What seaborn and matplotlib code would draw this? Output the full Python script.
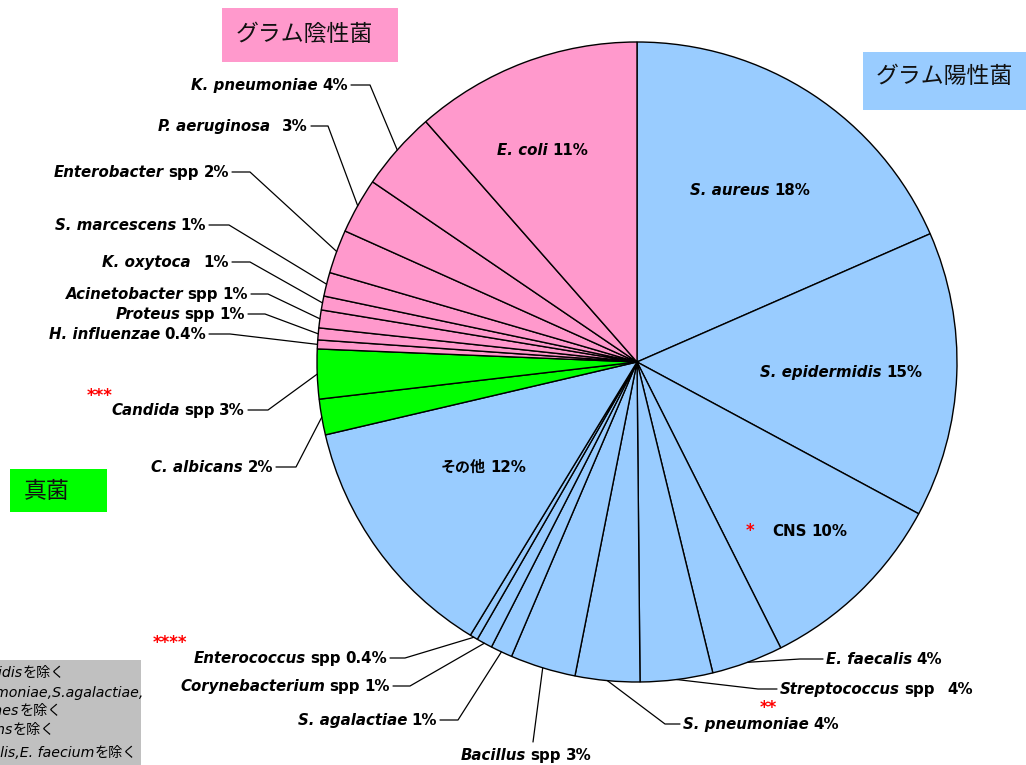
import matplotlib
matplotlib.use("Agg")
import numpy as np
import matplotlib.pyplot as plt
from matplotlib.patches import Rectangle
import seaborn as sns

sns.set_theme(style="white")
plt.rcParams['font.family'] = ['DejaVu Sans', 'Noto Sans CJK JP']

# ---------------- data (clockwise from 12 o'clock) ----------------
names = ["S. aureus", "S. epidermidis", "CNS", "E. faecalis", "Streptococcus",
         "S. pneumoniae", "Bacillus", "S. agalactiae", "Corynebacterium",
         "Enterococcus", "その他", "C. albicans", "Candida", "H. influenzae",
         "Proteus", "Acinetobacter", "K. oxytoca", "S. marcescens",
         "Enterobacter", "P. aeruginosa", "K. pneumoniae", "E. coli"]
spp = [False, False, False, False, True, False, True, False, True, True, False,
       False, True, False, True, True, False, False, True, False, False, False]
italic_name = [True, True, False, True, True, True, True, True, True, True, False,
               True, True, True, True, True, True, True, True, True, True, True]
values = [18.4, 14.4, 9.7, 3.6, 3.65, 3.25, 3.3, 1.1, 0.8, 0.4, 12.6, 1.8, 2.5,
          0.45, 0.6, 0.9, 0.7, 1.2, 2.2, 2.8, 4.0, 11.45]
pct_labels = ["18%", "15%", "10%", "4%", "4%", "4%", "3%", "1%", "1%", "0.4%",
              "12%", "2%", "3%", "0.4%", "1%", "1%", "1%", "1%", "2%", "3%",
              "4%", "11%"]
groups = ["pos"] * 11 + ["fungi"] * 2 + ["neg"] * 9

group_colors = {"pos": "#99CCFF", "neg": "#FF99CC", "fungi": "#00FF00"}
group_boxes = [("グラム陰性菌", "neg"), ("グラム陽性菌", "pos"), ("真菌", "fungi")]

note_lines = [("*S. epidermidis", "を除く"),
              ("**S. pneumoniae,S.agalactiae,", ""),
              ("S.pyogenes", "を除く"),
              ("***C. albicans", "を除く"),
              ("****E. faecalis,E. faecium", "を除く")]
star_marks = ["*", "**", "***", "****"]

# ---------------- layout (pixel coordinates) ----------------
W, H = 1026, 765
CENTER = (637, 362)
RADIUS = 320
# kind, anchor x, y(center), elbow x, gap before percent (pt)
layout = [
    ("in", 690, 190, None, 3.2), ("in", 760, 372, None, 3.2), ("in", 772, 531, None, 3.2),
    ("right", 826, 659, 800, 3.2), ("right", 780, 689, 758, 9), ("right", 683, 724, 665, 3.2),
    ("bottom", 461, 755, 533, 3.2), ("left", 437, 720, 458, 3.2), ("left", 390, 686, 410, 3.2),
    ("left", 387, 658, 405, 3.2), ("in", 441, 467, None, 3.2), ("left", 273, 467, 296, 3.2),
    ("left", 245, 410, 268, 3.2), ("left", 206, 334, 230, 3.2), ("left", 245, 314, 265, 3.2),
    ("left", 248, 294, 268, 3.2), ("left", 229, 262, 250, 9), ("left", 206, 225, 229, 3.2),
    ("left", 229, 172, 250, 3.2), ("left", 308, 126, 328, 9), ("left", 348, 85, 370, 3.2),
    ("in", 497, 150, None, 3.2),
]
box_layout = [((222, 8, 176, 54), 236, 34), ((863, 52, 170, 58), 876, 76),
              ((10, 469, 97, 43), 24, 491)]
note_layout = [65, 143, 62, 55, 137]
note_y = [672, 692, 710, 729, 752]
star_layout = [(750, 531), (768, 708), (100, 396), (170, 643)]

FS = 10.8

fig = plt.figure(figsize=(W / 100, H / 100), dpi=100)
ax = fig.add_axes([0, 0, 1, 1])

colors = [group_colors[g] for g in groups]
wedges, _ = ax.pie(values, colors=colors, startangle=-90, counterclock=True,
                   center=CENTER, radius=RADIUS,
                   wedgeprops=dict(edgecolor="black", linewidth=1.0))
ax.set_xlim(0, W)
ax.set_ylim(H, 0)
ax.set_aspect("auto")
ax.axis("off")


def chain(parts, x, y, ha, fs=FS, weight="bold", color="black"):
    """parts: list of (text, italic, gap_before_pt). y is baseline."""
    arts = []
    parts = [p for p in parts if p[0]]
    if ha == "left":
        prev = None
        for s, it, gap in parts:
            st = "italic" if it else "normal"
            if prev is None:
                prev = ax.text(x, y, s, ha="left", va="baseline", fontsize=fs,
                               fontstyle=st, fontweight=weight, color=color)
            else:
                prev = ax.annotate(s, xy=(1, y), xycoords=(prev, "data"),
                                   xytext=(gap, 0), textcoords="offset points",
                                   ha="left", va="baseline", fontsize=fs,
                                   fontstyle=st, fontweight=weight, color=color)
            arts.append(prev)
    else:
        prev = None
        next_gap = 0
        for s, it, gap in reversed(parts):
            st = "italic" if it else "normal"
            if prev is None:
                prev = ax.text(x, y, s, ha="right", va="baseline", fontsize=fs,
                               fontstyle=st, fontweight=weight, color=color)
            else:
                prev = ax.annotate(s, xy=(0, y), xycoords=(prev, "data"),
                                   xytext=(-next_gap, 0), textcoords="offset points",
                                   ha="right", va="baseline", fontsize=fs,
                                   fontstyle=st, fontweight=weight, color=color)
            next_gap = gap
            arts.append(prev)
    return arts


for i, w in enumerate(wedges):
    kind, lx, ly, ex, pgap = layout[i]
    parts = [(names[i], italic_name[i], 0)]
    if spp[i]:
        parts.append(("spp", False, 3.2))
    parts.append((pct_labels[i], False, pgap))
    mid = np.deg2rad((w.theta1 + w.theta2) / 2)
    px = CENTER[0] + RADIUS * np.cos(mid)
    py = CENTER[1] + RADIUS * np.sin(mid)
    base = ly + 5
    if kind == "in":
        chain(parts, lx, base, "left")
    elif kind == "left":
        chain(parts, lx, base, "right")
        ax.plot([lx + 3, ex, px], [ly, ly, py], color="black", lw=0.9)
    elif kind == "right":
        chain(parts, lx, base, "left")
        ax.plot([lx - 3, ex, px], [ly, ly, py], color="black", lw=0.9)
    else:  # bottom
        chain(parts, lx, base, "left")
        ax.plot([ex, px], [ly - 13, py], color="black", lw=0.9)

# group boxes
for (label, g), ((bx, by, bw, bh), tx, ty) in zip(group_boxes, box_layout):
    ax.add_patch(Rectangle((bx, by), bw, bh, facecolor=group_colors[g],
                           edgecolor="none", zorder=3))
    ax.text(tx, ty, label, ha="left", va="center", fontsize=16.5,
            family=["Noto Sans CJK JP"], color="#111111", zorder=4)

# red asterisks
for s, (sx, sy) in zip(star_marks, star_layout):
    ax.text(sx, sy, s, ha="center", va="center", fontsize=12,
            fontweight="bold", color="red")

# footnote box (cut off at the left edge, as in the original)
ax.add_patch(Rectangle((0, 660), 141, 105, facecolor="#C0C0C0",
                       edgecolor="none", zorder=3))
for (lat, jp), rx, ny in zip(note_lines, note_layout, note_y):
    arts = chain([(lat, True, 0), (jp, False, 0)], rx, ny + 5, "right",
                 fs=10.2, weight="normal", color="black")
    for a in arts:
        a.set_zorder(4)

fig.savefig("out.png", dpi=100, facecolor="white")
